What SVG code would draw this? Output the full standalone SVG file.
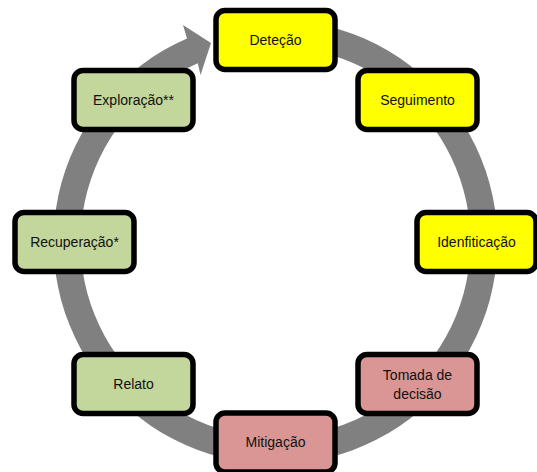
<svg xmlns="http://www.w3.org/2000/svg" width="537" height="472" viewBox="0 0 537 472">
<style>
.box{stroke:#000;stroke-width:5.5}
.y{fill:#FFFF00}
.g{fill:#C3D69B}
.r{fill:#D99694}
text{font-family:"Liberation Sans",Arial,sans-serif;font-size:14px;fill:#111;text-anchor:middle}
</style>
<rect width="537" height="472" fill="#fff"/>
<g id="connectors">
<path d="M 314.0 23.4 A 222 222 0 1 1 187.0 38.4 L 183 25 L 211 43 L 200.5 75 L 197.8 63.2 A 195 195 0 1 0 309.4 50.0 Z" fill="#808080"/>
</g>
<g id="detecao"><rect class="box y" x="216" y="10.5" width="119" height="59" rx="9"/><text x="275.5" y="45">Deteção</text></g>
<g id="seguimento"><rect class="box y" x="358" y="70.5" width="119" height="59" rx="9"/><text x="417.5" y="105">Seguimento</text></g>
<g id="identificacao"><rect class="box y" x="417" y="212.5" width="119" height="59" rx="9"/><text x="476.5" y="247">Idenfiticação</text></g>
<g id="tomada"><rect class="box r" x="358" y="354.5" width="119" height="59" rx="9"/><text x="417.5" y="380">Tomada de</text><text x="417.5" y="399">decisão</text></g>
<g id="mitigacao"><rect class="box r" x="216" y="413" width="119" height="59" rx="9"/><text x="275.5" y="447">Mitigação</text></g>
<g id="relato"><rect class="box g" x="74" y="354.5" width="119" height="59" rx="9"/><text x="133.5" y="389">Relato</text></g>
<g id="recuperacao"><rect class="box g" x="15" y="212.5" width="119" height="59" rx="9"/><text x="74.5" y="247">Recuperação*</text></g>
<g id="exploracao"><rect class="box g" x="74" y="70.5" width="119" height="59" rx="9"/><text x="133.5" y="105">Exploração**</text></g>
</svg>
